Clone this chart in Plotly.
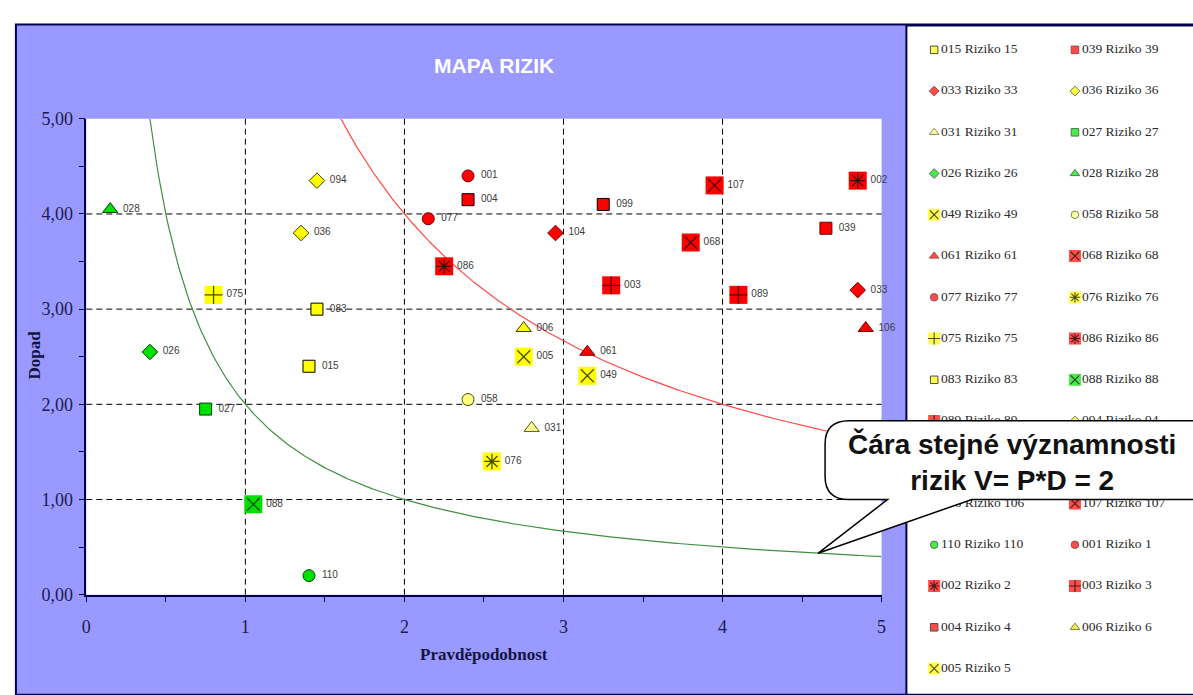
import numpy as np
import plotly.graph_objects as go

W, H = 1193, 695

# ---- risk register: id, probability (P), impact (D) ----
risk_ids = ["015", "039", "033", "036", "031", "027", "026", "028", "049", "058",
            "061", "068", "077", "076", "075", "086", "083", "088", "089", "094",
            "099", "104", "106", "107", "110", "001", "002", "003", "004", "006",
            "005"]
probability = [1.40, 4.65, 4.85, 1.35, 2.80, 0.75, 0.40, 0.15, 3.15, 2.40,
               3.15, 3.80, 2.15, 2.55, 0.80, 2.25, 1.45, 1.05, 4.10, 1.45,
               3.25, 2.95, 4.90, 3.95, 1.40, 2.40, 4.85, 3.30, 2.40, 2.75,
               2.75]
impact = [2.40, 3.85, 3.20, 3.80, 1.75, 1.95, 2.55, 4.05, 2.30, 2.05,
          2.55, 3.70, 3.95, 1.40, 3.15, 3.45, 3.00, 0.95, 3.15, 4.35,
          4.10, 3.80, 2.80, 4.30, 0.20, 4.40, 4.35, 3.25, 4.15, 2.80,
          2.50]

# iso-significance levels V = P * D
iso_levels = [2, 8]

x_ticks = [0, 1, 2, 3, 4, 5]
x_ticktext = ["0", "1", "2", "3", "4", "5"]
y_ticks = [0, 1, 2, 3, 4, 5]
y_ticktext = ["0,00", "1,00", "2,00", "3,00", "4,00", "5,00"]

# ---- marker styles ----
YEL, RED, GRN = "#FFFF00", "#FF0000", "#00E000"
DRED, DGRN, DYEL = "#700000", "#004400", "#3a3a00"
styles = {
    "015": ("square", YEL, "#000000"),
    "039": ("square", RED, DRED),
    "033": ("diamond", RED, DRED),
    "036": ("diamond", YEL, DYEL),
    "031": ("triangle-up", "#FFFF99", "#5a5a00"),
    "027": ("square", GRN, DGRN),
    "026": ("diamond", GRN, DGRN),
    "028": ("triangle-up", GRN, DGRN),
    "049": ("boxed", YEL, "x-thin-open"),
    "058": ("circle", "#FFFF80", "#4a4a00"),
    "061": ("triangle-up", RED, DRED),
    "068": ("boxed", RED, "x-thin-open"),
    "077": ("circle", RED, DRED),
    "076": ("boxed", YEL, "asterisk-open"),
    "075": ("boxed", YEL, "cross-thin-open"),
    "086": ("boxed", RED, "asterisk-open"),
    "083": ("square", YEL, "#000000"),
    "088": ("boxed", GRN, "x-thin-open"),
    "089": ("boxed", RED, "cross-thin-open"),
    "094": ("diamond", YEL, DYEL),
    "099": ("square", RED, "#000000"),
    "104": ("diamond", RED, DRED),
    "106": ("triangle-up", RED, DRED),
    "107": ("boxed", RED, "x-thin-open"),
    "110": ("circle", GRN, DGRN),
    "001": ("circle", RED, DRED),
    "002": ("boxed", RED, "asterisk-open"),
    "003": ("boxed", RED, "cross-thin-open"),
    "004": ("square", RED, "#000000"),
    "006": ("triangle-up", YEL, DYEL),
    "005": ("boxed", YEL, "x-thin-open"),
}

PERI = "#9999FF"
NAVY = "#000050"
TICK_COLOR = "#1c1c50"

# pixel geometry of the page
PLOT_L, PLOT_R, PLOT_T, PLOT_B = 82, 884, 112, 602
LEG_L, LEG_T = 909, 16


def fx(px):
    return px / W


def fy(py):
    return 1 - py / H


def data_to_px(x, y):
    return (PLOT_L + x / 5 * (PLOT_R - PLOT_L),
            PLOT_B - y / 5 * (PLOT_B - PLOT_T))


def marker_arrays(scale_plain, scale_box):
    sym, col, size, lcol, lw = [], [], [], [], []
    ov_idx, ov_sym, ov_size = [], [], []
    for i, rid in enumerate(risk_ids):
        kind, fill, extra = styles[rid]
        if kind == "boxed":
            sym.append("square")
            col.append(fill)
            size.append(scale_box)
            lcol.append(fill)
            lw.append(0)
            ov_idx.append(i)
            ov_sym.append(extra)
            ov_size.append(scale_box * 0.72)
        else:
            sym.append(kind)
            col.append(fill)
            s = scale_plain * (1.1 if kind == "triangle-up" else 1.0)
            size.append(s)
            lcol.append(extra)
            lw.append(1)
    return sym, col, size, lcol, lw, ov_idx, ov_sym, ov_size


fig = go.Figure()

# ---- iso-significance curves ----
curve_colors = {2: "#3f8f3f", 8: "#ff4a4a"}
for v in iso_levels:
    xs = np.linspace(v / 5, 5, 400)
    fig.add_trace(go.Scatter(
        x=xs, y=v / xs, mode="lines",
        line=dict(color=curve_colors[v], width=1.2),
        hoverinfo="skip", showlegend=False))

# ---- risk markers on the map ----
sym, col, size, lcol, lw, ov_idx, ov_sym, ov_size = marker_arrays(12, 18)
fig.add_trace(go.Scatter(
    x=probability, y=impact, mode="markers",
    marker=dict(symbol=sym, color=col, size=size,
                line=dict(color=lcol, width=lw), opacity=1),
    cliponaxis=False, showlegend=False,
    text=[f"{r} Riziko {int(r)}" for r in risk_ids], hoverinfo="text"))
fig.add_trace(go.Scatter(
    x=[probability[i] for i in ov_idx], y=[impact[i] for i in ov_idx],
    mode="markers",
    marker=dict(symbol=ov_sym, size=ov_size, color="black",
                line=dict(color="black", width=1.3)),
    cliponaxis=False, showlegend=False, hoverinfo="skip"))
# point labels
label_dx = 13 / ((PLOT_R - PLOT_L) / 5)
fig.add_trace(go.Scatter(
    x=[p + label_dx for p in probability], y=impact, mode="text",
    text=risk_ids, textposition="middle right",
    textfont=dict(family="Liberation Sans, Arial", size=10, color="#3a3a3a"),
    cliponaxis=False, showlegend=False, hoverinfo="skip"))

# ---- legend panel (two columns) on its own hidden axes ----
leg_col = [i % 2 for i in range(len(risk_ids))]
leg_row = [i // 2 for i in range(len(risk_ids))]
COL_W, ROW_H = 142, 42.47
COL0_X, ROW0_Y = 937, 41
x2_range = [(LEG_L - COL0_X) / COL_W, (W - COL0_X) / COL_W]
y2_range = [(H - ROW0_Y) / ROW_H, (LEG_T - ROW0_Y) / ROW_H]

sym, col, size, lcol, lw, ov_idx, ov_sym, ov_size = marker_arrays(7.5, 12)
fig.add_trace(go.Scatter(
    x=leg_col, y=leg_row, mode="markers", xaxis="x2", yaxis="y2",
    marker=dict(symbol=sym, color=col, size=size,
                line=dict(color=lcol, width=lw)),
    showlegend=False, hoverinfo="skip"))
fig.add_trace(go.Scatter(
    x=[leg_col[i] for i in ov_idx], y=[leg_row[i] for i in ov_idx],
    mode="markers", xaxis="x2", yaxis="y2",
    marker=dict(symbol=ov_sym, size=ov_size, color="black",
                line=dict(color="black", width=1.1)),
    showlegend=False, hoverinfo="skip"))
fig.add_trace(go.Scatter(
    x=[c + 7 / COL_W for c in leg_col], y=leg_row, mode="text",
    xaxis="x2", yaxis="y2",
    text=[f"{r} Riziko {int(r)}" for r in risk_ids],
    textposition="middle right",
    textfont=dict(family="Liberation Serif, Times New Roman", size=13.5,
                  color="#2a2a2a"),
    showlegend=False, hoverinfo="skip"))

# ---- background panels, grid and callout ----
shapes = [
    dict(type="rect", xref="paper", yref="paper", layer="below",
         x0=fx(11), x1=fx(W + 10), y0=fy(15), y1=fy(H + 10),
         fillcolor=PERI, line=dict(color=NAVY, width=2)),
    dict(type="rect", xref="paper", yref="paper", layer="below",
         x0=fx(PLOT_L), x1=fx(PLOT_R), y0=fy(PLOT_B), y1=fy(PLOT_T),
         fillcolor="white", line=dict(width=0)),
    dict(type="rect", xref="paper", yref="paper", layer="below",
         x0=fx(LEG_L), x1=fx(W + 10), y0=fy(LEG_T), y1=fy(H + 10),
         fillcolor="white", line=dict(color=NAVY, width=2)),
]
for v in [1, 2, 3, 4]:
    shapes.append(dict(type="line", xref="x", yref="y domain", layer="below",
                       x0=v, x1=v, y0=0, y1=1,
                       line=dict(color="black", width=1, dash="6px,4px")))
    shapes.append(dict(type="line", xref="x domain", yref="y", layer="below",
                       x0=0, x1=1, y0=v, y1=v,
                       line=dict(color="black", width=1, dash="6px,4px")))

# speech bubble pointing at the V = 2 curve
tip_p = 4.6
tip_px = data_to_px(tip_p, iso_levels[0] / tip_p)
bx0, bx1, by0, by1, r = 827, W + 25, 423, 504, 24
pts = [("M", (bx0 + r, by0)), ("L", (bx1, by0)), ("L", (bx1, by1)),
       ("L", (975, by1)), ("L", tip_px), ("L", (890, by1)),
       ("L", (bx0 + r, by1)), ("Q", (bx0, by1), (bx0, by1 - r)),
       ("L", (bx0, by0 + r)), ("Q", (bx0, by0), (bx0 + r, by0))]
path = ""
for seg in pts:
    cmd, coords = seg[0], seg[1:]
    path += cmd + " " + " ".join(f"{fx(a):.5f},{fy(b):.5f}" for a, b in coords) + " "
path += "Z"
shapes.append(dict(type="path", xref="paper", yref="paper", layer="above",
                   path=path, fillcolor="white",
                   line=dict(color="black", width=1.5)))

serif = "Liberation Serif, Times New Roman"
annotations = [
    dict(text="<b>MAPA RIZIK</b>", xref="paper", yref="paper",
         x=fx(493), y=fy(57), showarrow=False, xanchor="center", yanchor="middle",
         font=dict(family="Liberation Sans, Arial", size=21, color="white")),
    dict(text="<b>Pravděpodobnost</b>", xref="paper", yref="paper",
         x=fx(483), y=fy(664), showarrow=False, xanchor="center", yanchor="middle",
         font=dict(family=serif, size=17, color="#141440")),
    dict(text="<b>Dopad</b>", xref="paper", yref="paper", textangle=-90,
         x=fx(30), y=fy(355), showarrow=False, xanchor="center", yanchor="middle",
         font=dict(family=serif, size=17, color="#141440")),
    dict(text="<b>Čára stejné významnosti<br>rizik V= P*D = 2</b>",
         xref="paper", yref="paper", x=fx(1016), y=fy(465), showarrow=False,
         xanchor="center", yanchor="middle", align="center",
         font=dict(family="Liberation Sans, Arial", size=28, color="#111111")),
]

axis_common = dict(
    range=[0, 5], showgrid=False, zeroline=False, showline=True,
    linecolor=NAVY, linewidth=1.5, ticks="outside", ticklen=6,
    tickcolor=NAVY, tickwidth=1.3,
    tickfont=dict(family=serif, size=18, color=TICK_COLOR),
    minor=dict(tickvals=[0.5, 1.5, 2.5, 3.5, 4.5], ticks="outside",
               ticklen=6, tickcolor=NAVY, tickwidth=1.3),
    fixedrange=True,
)

fig.update_layout(
    width=W, height=H, margin=dict(l=0, r=0, t=0, b=0),
    paper_bgcolor="white", plot_bgcolor="rgba(0,0,0,0)",
    xaxis=dict(axis_common, domain=[fx(PLOT_L), fx(PLOT_R)],
               tickvals=x_ticks, ticktext=x_ticktext, ticklabelstandoff=9),
    yaxis=dict(axis_common, domain=[fy(PLOT_B), fy(PLOT_T)],
               tickvals=y_ticks, ticktext=y_ticktext, ticklabelstandoff=2),
    xaxis2=dict(domain=[fx(LEG_L), 1.0], range=x2_range, visible=False,
                anchor="y2", fixedrange=True),
    yaxis2=dict(domain=[0, fy(LEG_T)], range=y2_range, visible=False,
                anchor="x2", fixedrange=True),
    shapes=shapes, annotations=annotations,
    showlegend=False,
)

fig.write_html("out.html")
